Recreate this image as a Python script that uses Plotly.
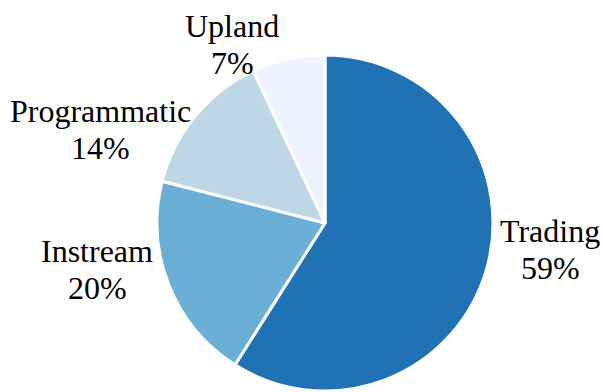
import plotly.graph_objects as go

# Share of revenue by channel
labels = ["Trading", "Instream", "Programmatic", "Upland"]
shares = [59, 20, 14, 7]
colors = ["#2171b5", "#6baed6", "#bdd7e7", "#eff3ff"]

# Label anchor points (pixel centre x, pixel baseline y of the name line)
label_pos = {
    "Trading": (550, 238),
    "Instream": (97, 258),
    "Programmatic": (100, 118),
    "Upland": (232, 33),
}

W, H = 603, 392
FONT = "Times New Roman, Liberation Serif, DejaVu Serif, serif"
FS = 32
LINE_GAP = 37

fig = go.Figure(
    go.Pie(
        labels=labels,
        values=shares,
        sort=False,
        direction="clockwise",
        rotation=0,
        marker=dict(colors=colors, line=dict(color="white", width=3)),
        textinfo="none",
        showlegend=False,
        hoverinfo="label+percent",
        automargin=False,
        domain=dict(x=[157 / W, 493 / W], y=[1 / H, 337 / H]),
    )
)

total = sum(shares)
for name, val in zip(labels, shares):
    cx, base = label_pos[name]
    for text, b in ((name, base), (f"{round(100 * val / total)}%", base + LINE_GAP)):
        # anchor near the middle of the capital height
        fig.add_annotation(
            x=cx / W,
            y=1 - (b - 7) / H,
            xref="paper",
            yref="paper",
            text=text,
            showarrow=False,
            xanchor="center",
            yanchor="middle",
            font=dict(family=FONT, size=FS, color="black"),
        )

fig.update_layout(
    width=W,
    height=H,
    margin=dict(l=0, r=0, t=0, b=0),
    paper_bgcolor="white",
    plot_bgcolor="white",
    font=dict(family=FONT, size=FS, color="black"),
)

fig.write_html("out.html")
